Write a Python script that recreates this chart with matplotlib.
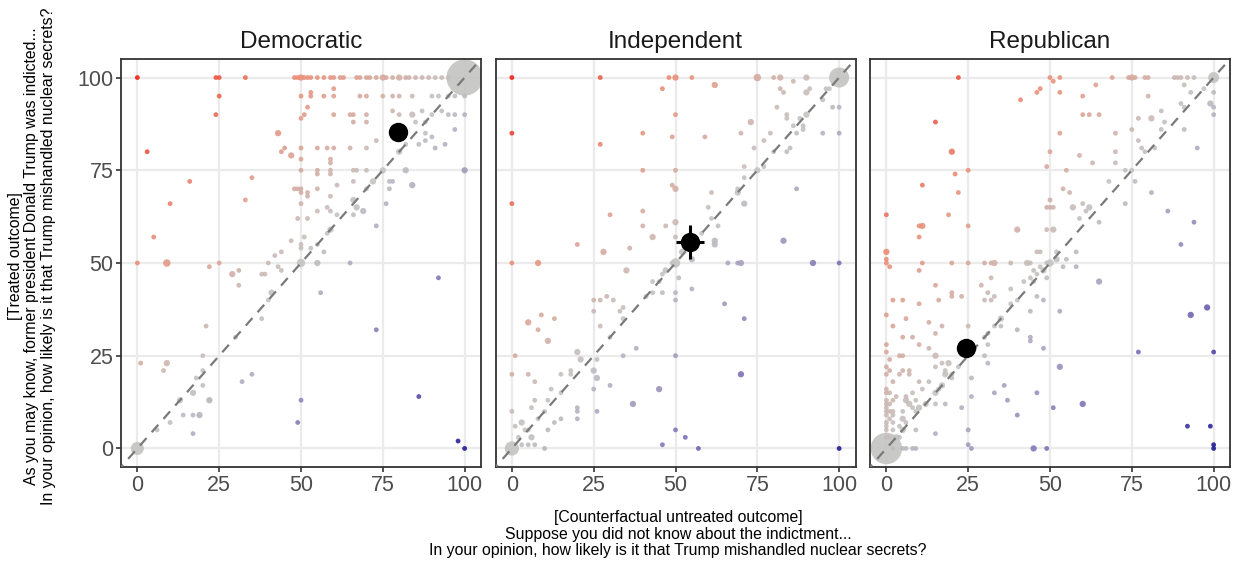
import numpy as np
import matplotlib
matplotlib.use("Agg")
import matplotlib.pyplot as plt
from matplotlib.colors import LinearSegmentedColormap, Normalize

plt.rcParams["font.family"] = ["Liberation Sans", "DejaVu Sans"]

### data: (untreated x, treated y, number of respondents)

panels = ["Democratic", "Independent", "Republican"]

dem_points = [
    (0, 100, 1), (24, 100, 1), (25, 100, 1), (33, 100, 1), (48, 100, 1), (49, 100, 1), (50, 100, 2),
    (51, 100, 1), (52, 100, 1), (53, 100, 1), (55, 100, 1), (57, 100, 1), (59, 100, 1), (60, 100, 1),
    (62, 100, 1), (63, 100, 1), (67, 100, 1), (68, 100, 1), (70, 100, 1), (71, 100, 1), (73, 100, 1),
    (75, 100, 2), (76, 100, 1), (78, 100, 1), (80, 100, 2), (82, 100, 1), (83, 100, 1), (85, 100, 1),
    (87, 100, 1), (89, 100, 1), (91, 100, 1), (93, 100, 1), (95, 100, 1), (100, 100, 80),
    (25, 95, 1), (50, 95, 1), (53, 95, 1), (57, 95, 1), (60, 95, 1), (68, 95, 1), (70, 95, 1),
    (75, 95, 1), (78, 95, 1), (80, 95, 1), (84, 95, 1), (90, 95, 1), (92, 95, 1), (95, 95, 1),
    (97, 95, 1), (100, 95, 1), (53, 96, 1), (60, 97, 1), (52, 92, 1),
    (24, 90, 1), (51, 90, 1), (60, 90, 1), (65, 90, 1), (66, 90, 1), (70, 90, 1), (78, 91, 1),
    (80, 90, 1), (84, 90, 2), (87, 91, 1), (90, 90, 1), (93, 91, 1), (95, 90, 1), (97, 90, 1),
    (100, 90, 1), (50, 89, 1), (66, 88, 1), (70, 88, 1), (85, 88, 1), (88, 88, 1),
    (43, 85, 2), (88, 85, 1), (97, 86, 1), (90, 84, 1), (73, 83, 1), (88, 83, 1),
    (82, 82, 1), (86, 82, 1), (94, 82, 1),
    (45, 81, 1), (50, 81, 1), (55, 81, 1), (58, 81, 1), (60, 81, 1), (65, 81, 1), (70, 81, 1),
    (91, 81, 1), (3, 80, 1), (44, 80, 1), (80, 80, 2), (47, 79, 2), (50, 78, 1), (59, 78, 1),
    (59, 77, 1), (50, 75, 1), (55, 75, 1), (59, 75, 1), (66, 75, 1), (67, 75, 1), (70, 75, 1),
    (75, 75, 2), (82, 75, 2), (100, 75, 2), (55, 74, 1), (59, 74, 1), (35, 73, 1),
    (16, 72, 1), (66, 72, 1), (72, 72, 2), (77, 72, 1), (78, 72, 1), (61, 71, 1), (84, 71, 2),
    (48, 70, 1), (49, 70, 1), (50, 70, 1), (55, 70, 1), (70, 70, 1), (77, 70, 1),
    (50, 69, 1), (52, 69, 1), (52, 68, 1), (59, 68, 1), (33, 67, 1), (66, 67, 2),
    (10, 66, 1), (50, 66, 1), (76, 66, 1), (58, 65, 1), (67, 65, 2), (55, 64, 1), (59, 64, 1),
    (69, 64, 2), (61, 63, 1), (66, 63, 1), (49, 62, 1), (52, 62, 1), (73, 60, 1), (59, 59, 2),
    (58, 58, 1), (5, 57, 1), (51, 57, 1), (47, 56, 1), (50, 55, 1), (55, 55, 1), (50, 54, 1),
    (53, 54, 1), (44, 53, 1), (57, 53, 1), (42, 52, 1),
    (0, 50, 1), (9, 50, 3), (25, 50, 1), (40, 50, 1), (50, 50, 4), (55, 50, 2), (65, 50, 1),
    (22, 49, 1), (43, 49, 1), (31, 48, 1), (44, 48, 1), (29, 47, 2), (38, 47, 1), (39, 47, 1),
    (92, 46, 1), (31, 44, 1), (41, 42, 2), (56, 42, 1), (40, 40, 1), (38, 35, 1), (21, 33, 1),
    (73, 32, 1), (30, 30, 1), (20, 25, 1), (1, 23, 1), (9, 23, 2), (8, 21, 1), (20, 21, 1),
    (35, 20, 1), (18, 19, 1), (32, 18, 1), (20, 17, 1), (17, 15, 2), (86, 14, 1),
    (13, 13, 2), (22, 13, 2), (50, 13, 1), (14, 9, 1), (17, 9, 1), (19, 9, 2), (10, 7, 1),
    (49, 7, 1), (6, 5, 1), (17, 4, 1), (98, 2, 1), (0, 0, 10), (100, 0, 1),
]

ind_points = [
    (0, 100, 1), (27, 100, 1), (48, 100, 1), (50, 100, 2), (55, 100, 1), (75, 100, 3), (80, 100, 1),
    (82, 100, 2), (90, 100, 2), (100, 100, 24), (86, 99, 1), (62, 98, 2), (46, 97, 1), (82, 97, 1),
    (91, 97, 1), (96, 97, 1), (97, 97, 1), (83, 96, 1), (90, 96, 2), (95, 94, 1), (81, 92, 1),
    (98, 92, 1), (100, 92, 1), (50, 90, 1), (84, 90, 1), (90, 90, 2), (84, 89, 1), (88, 89, 1),
    (73, 88, 2), (86, 87, 1), (89, 87, 1), (89, 86, 1),
    (0, 85, 1), (40, 85, 1), (70, 85, 1), (79, 85, 1), (87, 85, 1), (95, 85, 1), (100, 85, 1),
    (49, 84, 1), (59, 84, 1), (77, 83, 1), (27, 82, 1), (74, 81, 1), (85, 81, 1), (80, 80, 1),
    (84, 80, 1), (71, 76, 1), (77, 76, 1), (40, 75, 1), (50, 75, 1), (75, 75, 2), (71, 73, 1),
    (49, 71, 1), (50, 70, 2), (69, 70, 1), (87, 70, 1), (61, 69, 1), (69, 69, 2), (0, 66, 1),
    (71, 66, 2), (60, 65, 1), (40, 64, 1), (30, 63, 1), (61, 62, 1), (50, 61, 2), (40, 60, 1),
    (47, 60, 1), (63, 60, 1), (58, 58, 1), (43, 57, 2), (50, 57, 1), (62, 56, 2), (83, 56, 2),
    (20, 55, 1), (62, 55, 2), (36, 54, 1), (28, 53, 2), (52, 53, 2), (55, 51, 2),
    (0, 50, 1), (8, 50, 2), (49, 50, 1), (50, 50, 5), (66, 50, 1), (69, 50, 1), (70, 50, 2),
    (92, 50, 2), (100, 50, 1), (35, 48, 2), (47, 48, 2), (46, 47, 1), (51, 46, 1), (43, 45, 1),
    (45, 45, 1), (55, 43, 1), (43, 42, 1), (46, 42, 1), (50, 42, 1), (41, 41, 1), (29, 41, 1),
    (25, 40, 1), (27, 40, 1), (31, 40, 1), (50, 40, 1), (65, 39, 1), (34, 38, 1), (25, 37, 1),
    (33, 37, 1), (9, 36, 1), (13, 35, 1), (34, 35, 1), (71, 35, 1), (5, 34, 2), (27, 33, 1),
    (8, 32, 1), (30, 30, 1), (11, 29, 2), (38, 27, 1), (20, 26, 2), (1, 25, 1), (34, 25, 1),
    (50, 25, 1), (21, 24, 2), (26, 24, 1), (18, 21, 1), (25, 21, 2), (0, 20, 1), (5, 20, 1),
    (15, 20, 1), (18, 20, 1), (70, 20, 2), (26, 19, 2), (7, 18, 1), (30, 17, 1), (12, 16, 1),
    (25, 16, 1), (45, 16, 2), (15, 15, 1), (7, 13, 1), (11, 13, 1), (37, 12, 2), (6, 11, 1),
    (20, 11, 1), (0, 10, 1), (10, 10, 1), (20, 10, 1), (26, 10, 1), (8, 8, 1), (15, 8, 1),
    (20, 8, 1), (3, 7, 2), (13, 7, 1), (1, 6, 1), (5, 5, 1), (4, 5, 1), (11, 5, 1), (50, 5, 1),
    (2, 3, 1), (6, 3, 2), (53, 3, 1), (3, 1, 1), (5, 1, 1), (7, 1, 1), (46, 1, 1),
    (0, 0, 12), (10, 0, 1), (57, 0, 1), (100, 0, 1),
]

rep_points = [
    (22, 100, 1), (50, 100, 1), (53, 100, 1), (69, 100, 1), (74, 100, 1), (75, 100, 2), (76, 100, 1),
    (79, 100, 1), (80, 100, 1), (88, 100, 1), (89, 100, 1), (90, 100, 1), (92, 100, 1), (94, 100, 1),
    (100, 100, 7), (51, 99, 1), (64, 98, 1), (91, 98, 1), (47, 97, 1), (97, 97, 1), (46, 96, 1),
    (53, 96, 1), (93, 96, 1), (100, 96, 1), (60, 95, 1), (80, 95, 1), (41, 94, 1), (90, 93, 1),
    (99, 93, 2), (91, 92, 1), (100, 92, 1), (84, 91, 1), (60, 90, 1), (62, 90, 1), (65, 90, 1),
    (100, 90, 1), (77, 89, 1), (81, 89, 2), (15, 88, 1), (85, 88, 1), (75, 86, 1), (84, 86, 1),
    (91, 86, 1), (53, 85, 1), (70, 85, 1), (77, 83, 1), (78, 81, 1), (82, 81, 1), (95, 81, 1),
    (20, 80, 2), (50, 80, 1), (70, 80, 1), (79, 80, 1), (59, 79, 1), (63, 77, 1), (70, 77, 1),
    (49, 76, 1), (25, 75, 1), (55, 75, 1), (73, 75, 1), (75, 75, 1), (21, 74, 1), (68, 72, 1),
    (76, 72, 1), (11, 71, 1), (54, 70, 1), (22, 69, 1), (56, 69, 1), (81, 69, 1), (50, 67, 1),
    (60, 66, 1), (73, 66, 1), (49, 65, 1), (50, 65, 1), (51, 65, 1), (57, 65, 2), (62, 65, 2),
    (61, 64, 1), (86, 64, 1), (0, 63, 1), (19, 63, 1), (59, 62, 1), (65, 61, 1), (94, 61, 1),
    (10, 60, 1), (11, 60, 2), (25, 60, 1), (40, 59, 2), (49, 59, 1), (51, 59, 2), (10, 57, 1),
    (90, 55, 1), (0, 53, 2), (46, 53, 1), (47, 53, 1), (52, 53, 1), (58, 53, 1), (0, 51, 1),
    (52, 51, 2), (55, 51, 1),
    (0, 50, 1), (11, 50, 1), (20, 50, 1), (25, 50, 1), (30, 50, 1), (32, 50, 1), (33, 50, 2),
    (38, 50, 1), (43, 50, 2), (44, 50, 1), (49, 50, 1), (50, 50, 3), (1, 49, 1), (47, 49, 1),
    (54, 49, 1), (58, 49, 1), (10, 48, 1), (45, 48, 1), (48, 48, 2), (46, 47, 1), (32, 46, 1),
    (44, 46, 1), (49, 46, 1), (42, 45, 1), (45, 45, 1), (65, 45, 2), (15, 44, 1), (29, 44, 1),
    (38, 43, 1), (20, 42, 1), (31, 42, 1), (20, 41, 1), (23, 41, 1), (33, 41, 1), (46, 41, 1),
    (2, 40, 1), (5, 40, 1), (16, 40, 1), (30, 40, 1), (32, 40, 1), (40, 40, 1), (48, 40, 1),
    (10, 39, 1), (38, 39, 1), (98, 38, 2), (44, 37, 1), (53, 37, 1), (0, 36, 1), (93, 36, 2),
    (6, 35, 1), (35, 35, 2), (13, 34, 1), (2, 33, 1), (17, 33, 1), (25, 33, 1), (33, 33, 1),
    (35, 33, 1), (40, 32, 1), (15, 31, 1), (31, 31, 1), (5, 30, 1), (8, 30, 1), (30, 30, 1),
    (44, 30, 1), (44, 29, 1), (0, 28, 1), (10, 28, 1), (31, 28, 1), (13, 27, 1), (27, 27, 1),
    (48, 27, 1), (0, 26, 1), (77, 26, 1), (100, 26, 1), (4, 25, 1), (5, 25, 1), (15, 25, 2),
    (30, 25, 1), (22, 22, 1), (1, 24, 1), (17, 23, 1), (19, 23, 2), (31, 23, 1), (0, 22, 1),
    (15, 22, 1), (53, 22, 2), (1, 21, 1), (5, 21, 1), (7, 21, 1), (18, 21, 1), (0, 20, 1),
    (4, 20, 1), (7, 20, 1), (18, 20, 2), (20, 20, 1), (20, 19, 1), (26, 19, 1), (2, 18, 1),
    (10, 18, 1), (13, 18, 1), (17, 17, 2), (36, 17, 1), (0, 16, 1), (11, 16, 1), (16, 16, 1),
    (0, 15, 1), (1, 15, 1), (8, 15, 1), (15, 15, 2), (33, 15, 1), (46, 15, 1), (3, 14, 1),
    (6, 14, 1), (26, 14, 1), (0, 13, 1), (2, 13, 1), (6, 13, 2), (9, 13, 1), (37, 13, 1),
    (0, 12, 1), (1, 12, 1), (7, 12, 2), (12, 12, 2), (15, 12, 1), (18, 12, 1), (60, 12, 2),
    (0, 11, 1), (8, 11, 1), (10, 11, 2), (23, 11, 1), (51, 11, 1), (0, 10, 1), (1, 10, 1),
    (2, 10, 1), (5, 10, 1), (9, 10, 1), (0, 9, 1), (2, 9, 1), (40, 9, 1), (1, 8, 1), (5, 8, 2),
    (0, 7, 1), (2, 7, 1), (6, 7, 1), (0, 6, 1), (4, 6, 1), (92, 6, 1), (99, 6, 1), (0, 5, 1),
    (2, 5, 1), (5, 5, 2), (9, 5, 1), (25, 5, 1), (15, 4, 1), (0, 3, 1), (1, 3, 1), (3, 3, 2),
    (4, 3, 1), (25, 1, 1), (100, 1, 1), (0, 0, 60), (2, 0, 1), (5, 0, 1), (6, 0, 1), (8, 0, 1),
    (9, 0, 1), (26, 0, 1), (45, 0, 2), (49, 0, 1), (100, 0, 1),
]

# respondent means with 95% intervals
mean_x = [79.5, 54.4, 24.4]
mean_y = [85.4, 55.7, 27.1]
mean_x_ci = [(78.2, 80.8), (50.0, 58.8), (23.2, 25.6)]
mean_y_ci = [(84.2, 86.6), (51.2, 60.2), (25.9, 28.3)]

ticks = [0, 25, 50, 75, 100]

xlabel = ("[Counterfactual untreated outcome]\n"
          "Suppose you did not know about the indictment...\n"
          "In your opinion, how likely is it that Trump mishandled nuclear secrets?")
ylabel = ("[Treated outcome]\n"
          "As you may know, former president Donald Trump was indicted...\n"
          "In your opinion, how likely is it that Trump mishandled nuclear secrets?")

### plotting

# colour = treated minus untreated (y - x)
cmap = LinearSegmentedColormap.from_list(
    "diff",
    [(0.0, "#1a1690"), (0.25, "#7c6cb4"), (0.5, "#c2c2c2"), (0.75, "#e98e76"), (1.0, "#f21c10")],
)
norm = Normalize(-100, 100)

W, H = 1241, 564
fig = plt.figure(figsize=(W / 100, H / 100), dpi=100)

lefts = [121, 495.5, 870]
for k, (name, pts) in enumerate(zip(panels, [dem_points, ind_points, rep_points])):
    ax = fig.add_axes([lefts[k] / W, 97 / H, 360 / W, 408 / H])
    pts = np.array(pts, dtype=float)
    x, y, n = pts[:, 0], pts[:, 1], pts[:, 2]
    order = np.argsort(-n)  # big bubbles behind
    ax.scatter(x[order], y[order], s=12 + 8.5 * (n[order] - 1), c=y[order] - x[order], cmap=cmap,
               norm=norm, alpha=0.88, linewidths=0, zorder=2)
    ax.plot([-10, 110], [-10, 110], color="#7a7a7a", linestyle=(0, (4.5, 3.5)), linewidth=1.6, zorder=3)

    ax.plot(mean_x_ci[k], [mean_y[k]] * 2, color="black", linewidth=2.2, solid_capstyle="butt", zorder=4)
    ax.plot([mean_x[k]] * 2, mean_y_ci[k], color="black", linewidth=2.2, solid_capstyle="butt", zorder=4)
    ax.scatter([mean_x[k]], [mean_y[k]], s=195, color="black", linewidths=0, zorder=5)

    ax.set_xlim(-5, 105)
    ax.set_ylim(-5, 105)
    ax.set_xticks(ticks)
    ax.set_yticks(ticks)
    ax.grid(color="#ebebeb", linewidth=1.6, zorder=0)
    ax.set_axisbelow(True)
    for sp in ax.spines.values():
        sp.set_color("#333333")
        sp.set_linewidth(1.3)
    ax.tick_params(length=3.5, width=1.2, color="#333333", labelcolor="#4d4d4d", labelsize=15.5, pad=2)
    if k > 0:
        ax.tick_params(labelleft=False, left=False)
    ax.set_title(name, fontsize=17.5, color="#1a1a1a", pad=8)

fig.text(678 / W, 1 - 534 / H, xlabel, ha="center", va="center", fontsize=11.45, linespacing=1.12)
fig.text(32 / W, 1 - 256 / H, ylabel, ha="center", va="center", rotation=90, fontsize=11.45,
         linespacing=1.12)

fig.savefig("out.png", dpi=100)
